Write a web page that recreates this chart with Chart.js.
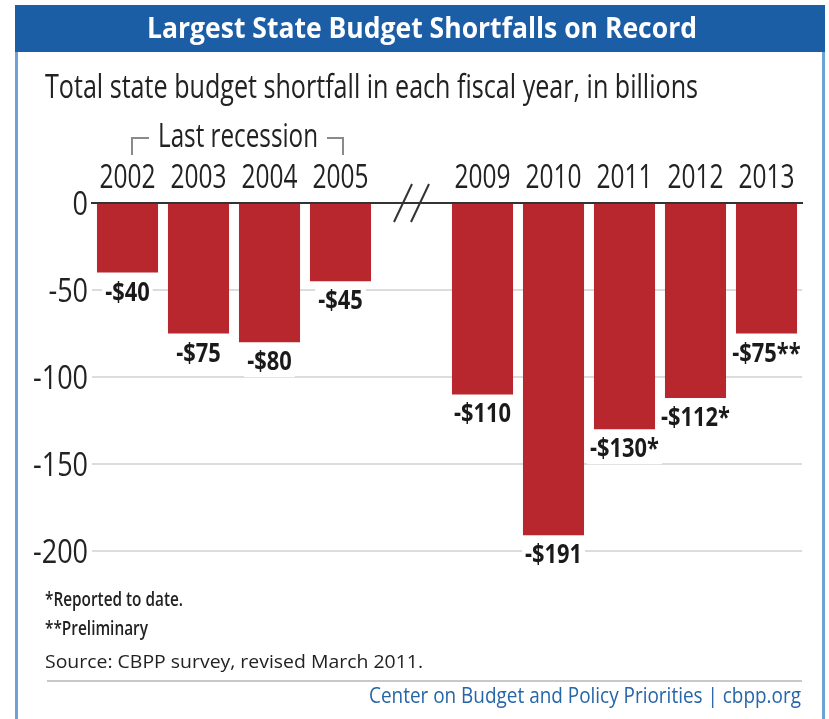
<!DOCTYPE html>
<html>
<head>
<meta charset="utf-8">
<script src="https://cdn.jsdelivr.net/npm/chart.js@4"></script>
<style>
  body { margin: 0; background: #fff; }
  canvas { display: block; }
</style>
</head>
<body>
<canvas id="chart" width="829" height="719"></canvas>
<script>
const years = ['2002', '2003', '2004', '2005', '', '2009', '2010', '2011', '2012', '2013'];
const shortfalls = [-40, -75, -80, -45, null, -110, -191, -130, -112, -75];
const valueLabels = ['-$40', '-$75', '-$80', '-$45', '', '-$110', '-$191', '-$130*', '-$112*', '-$75**'];
const yTicks = [0, -50, -100, -150, -200];
const recessionLabel = 'Last recession';
const recessionRange = [0, 3];
const breakIndex = 4;

const titleText = 'Largest State Budget Shortfalls on Record';
const subtitleText = 'Total state budget shortfall in each fiscal year, in billions';
const notes = ['*Reported to date.', '**Preliminary'];
const sourceText = 'Source: CBPP survey, revised March 2011.';
const creditText = 'Center on Budget and Policy Priorities | cbpp.org';

const FAM = '"Open Sans", "DejaVu Sans", sans-serif';
const BLUE = '#1c5ea6';
const INK = '#222';

// squeeze text horizontally so it looks like a condensed face
function squeeze(ctx, font, sample, width) {
  ctx.font = font;
  return width / ctx.measureText(sample).width;
}

function text(ctx, str, x, y, font, color, sx, align) {
  ctx.save();
  ctx.font = font;
  ctx.fillStyle = color;
  ctx.textAlign = align || 'left';
  ctx.textBaseline = 'alphabetic';
  ctx.translate(x, y);
  ctx.scale(sx, 1);
  ctx.fillText(str, 0, 0);
  ctx.restore();
}

const decor = {
  id: 'decor',
  beforeDraw(chart) {
    const ctx = chart.ctx;
    ctx.save();
    ctx.fillStyle = '#fff';
    ctx.fillRect(0, 0, chart.width, chart.height);
    ctx.fillStyle = BLUE;
    ctx.fillRect(15, 5, 810, 47);
    ctx.fillStyle = '#6fa2d4';
    ctx.fillRect(15, 52, 3, 667);
    ctx.fillRect(822, 52, 3, 667);
    ctx.restore();
  },
  afterDatasetsDraw(chart) {
    const ctx = chart.ctx;
    const font = 'bold 27px ' + FAM;
    const sx = squeeze(ctx, font, '-$191', 57);
    chart.getDatasetMeta(0).data.forEach((bar, i) => {
      const lbl = valueLabels[i];
      if (!lbl) return;
      ctx.font = font;
      const w = ctx.measureText(lbl).width * sx;
      ctx.fillStyle = '#fff';
      ctx.fillRect(bar.x - w / 2 - 3, bar.y + 5, w + 6, 30);
      text(ctx, lbl, bar.x, bar.y + 28, font, '#1a1a1a', sx, 'center');
    });
  },
  afterDraw(chart) {
    const ctx = chart.ctx;
    const xs = chart.scales.x;
    const ys = chart.scales.y;
    const y0 = ys.getPixelForValue(0);

    // titles
    let f = 'bold 28px ' + FAM;
    text(ctx, titleText, 422, 38, f, '#fff', squeeze(ctx, f, titleText, 550), 'center');
    f = '32px ' + FAM;
    text(ctx, subtitleText, 45, 98, f, INK, squeeze(ctx, f, subtitleText, 653));

    // year labels
    f = '33px ' + FAM;
    let sx = squeeze(ctx, f, '2002', 56);
    years.forEach((yr, i) => {
      if (yr) text(ctx, yr, xs.getPixelForValue(i), 188, f, INK, sx, 'center');
    });

    // value axis labels
    sx = squeeze(ctx, f, '-100', 55);
    yTicks.forEach(v => {
      text(ctx, String(v), 88, ys.getPixelForValue(v) + 12, f, INK, sx, 'right');
    });

    // axis break
    const bx = xs.getPixelForValue(breakIndex);
    ctx.save();
    ctx.strokeStyle = '#333';
    ctx.lineWidth = 2;
    [-8.5, 8.5].forEach(off => {
      ctx.beginPath();
      ctx.moveTo(bx + off - 9, y0 + 19);
      ctx.lineTo(bx + off + 9, y0 - 19);
      ctx.stroke();
    });
    ctx.restore();

    // recession bracket
    const x1 = 132, x2 = 343, by = 138;
    f = '33px ' + FAM;
    sx = squeeze(ctx, f, recessionLabel, 160);
    text(ctx, recessionLabel, 238, 147, f, INK, sx, 'center');
    ctx.save();
    ctx.strokeStyle = '#8a8a8a';
    ctx.lineWidth = 2;
    ctx.beginPath();
    ctx.moveTo(x1, by + 17);
    ctx.lineTo(x1, by);
    ctx.lineTo(149, by);
    ctx.moveTo(327, by);
    ctx.lineTo(x2, by);
    ctx.lineTo(x2, by + 17);
    ctx.stroke();
    ctx.restore();

    // notes and source
    f = '600 19px ' + FAM;
    text(ctx, notes[0], 45, 606, f, INK, squeeze(ctx, f, notes[0], 138));
    text(ctx, notes[1], 45, 635, f, INK, squeeze(ctx, f, notes[1], 103));
    f = '19px ' + FAM;
    text(ctx, sourceText, 45, 668, f, INK, squeeze(ctx, f, sourceText, 378));

    ctx.save();
    ctx.fillStyle = '#c8c8c8';
    ctx.fillRect(47, 680, 755, 2);
    ctx.restore();

    f = '21px ' + FAM;
    text(ctx, creditText, 801, 703, f, '#2565a8', squeeze(ctx, f, creditText, 432), 'right');
  }
};

new Chart(document.getElementById('chart'), {
  type: 'bar',
  data: {
    labels: years,
    datasets: [{
      data: shortfalls,
      backgroundColor: '#b8272e',
      categoryPercentage: 1,
      barPercentage: 0.86
    }]
  },
  options: {
    responsive: false,
    animation: false,
    layout: { padding: { top: 150, right: 27, bottom: 168, left: 0 } },
    plugins: {
      legend: { display: false },
      tooltip: { enabled: false }
    },
    scales: {
      x: {
        position: 'top',
        grid: { display: false },
        border: { display: true, color: '#333', width: 2 },
        ticks: { display: false },
        afterFit: s => { s.height = 53; }
      },
      y: {
        min: -200,
        max: 0,
        afterBuildTicks: s => { s.ticks = yTicks.map(v => ({ value: v })); },
        grid: {
          drawTicks: false,
          lineWidth: 2,
          color: c => c.tick && c.tick.value === 0 ? '#333' : '#dcdcdc'
        },
        border: { display: false },
        ticks: { display: false },
        afterFit: s => { s.width = 92; }
      }
    }
  },
  plugins: [decor]
});
</script>
</body>
</html>
